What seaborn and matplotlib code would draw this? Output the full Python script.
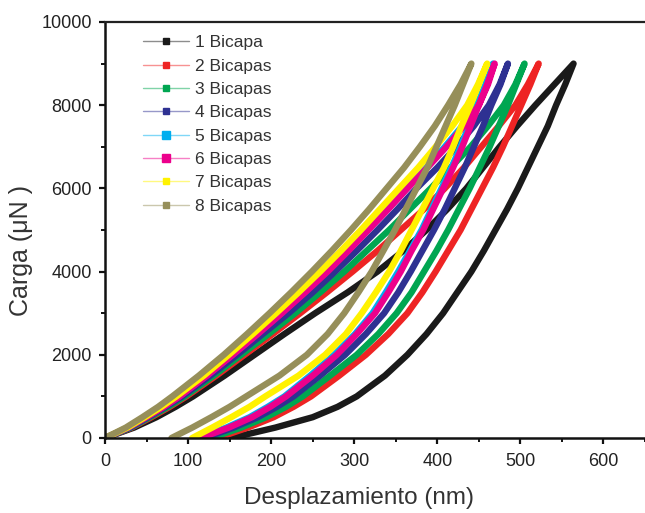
import numpy as np
import pandas as pd
import matplotlib
matplotlib.use("Agg")
import matplotlib.pyplot as plt
from matplotlib.lines import Line2D
from matplotlib.ticker import MultipleLocator
from matplotlib.colors import to_rgb
import seaborn as sns

# ---- data ----
series = ["1 Bicapa", "2 Bicapas", "3 Bicapas", "4 Bicapas",
          "5 Bicapas", "6 Bicapas", "7 Bicapas", "8 Bicapas"]
colors = ["#1a1a1a", "#ee2424", "#00a651", "#2e3192",
          "#00aeef", "#ec008c", "#fff200", "#968f5a"]

# load levels (µN)
loads = [0, 250, 500, 750, 1000, 1500, 2000, 2500, 3000, 3500, 4000,
         4500, 5000, 5500, 6000, 6500, 7000, 7500, 8000, 8500, 9000]

# displacement (nm) on the loading branch at each load level
load_b1 = [0, 35, 62, 85, 106, 144, 180, 216, 253, 292, 328, 359, 387, 412, 435, 455, 475, 496, 518, 541, 564]
load_b2 = [0, 32, 56, 78, 98, 134, 168, 202, 235, 267, 298, 328, 356, 384, 409, 432, 453, 474, 494, 509, 522]
load_b3 = [0, 31, 54, 76, 96, 131, 164, 197, 229, 259, 288, 315, 342, 367, 392, 416, 440, 461, 480, 494, 505]
load_b4 = [0, 30, 52, 73, 93, 127, 159, 190, 221, 250, 277, 303, 328, 352, 375, 400, 423, 444, 462, 475, 485]
load_b5 = [0, 28, 49, 70, 89, 122, 153, 183, 212, 240, 266, 291, 316, 340, 363, 387, 409, 430, 448, 459, 467]
load_b6 = [0, 28, 50, 71, 90, 123, 154, 184, 213, 241, 268, 293, 317, 341, 364, 388, 411, 432, 450, 461, 469]
load_b7 = [0, 27, 48, 68, 86, 119, 149, 178, 206, 233, 259, 284, 308, 331, 354, 377, 398, 418, 436, 449, 460]
load_b8 = [0, 25, 45, 64, 81, 113, 143, 171, 198, 224, 249, 273, 296, 318, 339, 360, 379, 397, 413, 428, 441]

# displacement (nm) on the unloading branch at each load level
unload_b1 = [152, 205, 250, 280, 303, 337, 364, 387, 407, 424, 441, 456, 470, 484, 497, 509, 521, 533, 543, 554, 564]
unload_b2 = [135, 172, 203, 227, 248, 282, 314, 341, 364, 382, 398, 413, 428, 441, 454, 467, 479, 490, 501, 512, 522]
unload_b3 = [128, 164, 194, 218, 238, 271, 303, 329, 351, 369, 384, 399, 413, 426, 439, 451, 463, 474, 485, 495, 505]
unload_b4 = [120, 155, 184, 207, 227, 259, 289, 314, 336, 353, 368, 382, 396, 409, 421, 433, 444, 455, 465, 476, 485]
unload_b5 = [112, 146, 174, 196, 216, 247, 276, 301, 322, 338, 353, 367, 381, 393, 405, 417, 428, 438, 448, 458, 467]
unload_b6 = [115, 149, 177, 199, 218, 250, 279, 303, 325, 341, 356, 369, 383, 395, 407, 419, 430, 440, 450, 460, 469]
unload_b7 = [105, 129, 152, 174, 193, 233, 265, 290, 309, 326, 342, 356, 369, 382, 395, 408, 419, 429, 440, 450, 460]
unload_b8 = [80, 105, 128, 150, 170, 210, 243, 268, 288, 305, 321, 335, 349, 362, 375, 388, 399, 410, 421, 431, 441]

loading = [load_b1, load_b2, load_b3, load_b4, load_b5, load_b6, load_b7, load_b8]
unloading = [unload_b1, unload_b2, unload_b3, unload_b4,
             unload_b5, unload_b6, unload_b7, unload_b8]

xticks = [0, 100, 200, 300, 400, 500, 600]
yticks = [0, 2000, 4000, 6000, 8000, 10000]

# ---- build long table: loading then unloading path ----
rows = []
for name, ld, ul in zip(series, loading, unloading):
    xs = list(ld) + list(ul[::-1][1:])
    ys = list(loads) + list(loads[::-1][1:])
    for i, (x, y) in enumerate(zip(xs, ys)):
        rows.append({"serie": name, "order": i, "disp": x, "carga": y})
df = pd.DataFrame(rows)

sns.set_theme(style="ticks")
plt.rcParams["font.family"] = ["Liberation Sans", "DejaVu Sans"]

fig = plt.figure(figsize=(6.45, 5.13), dpi=100)
W, H = 645, 513
ax = fig.add_axes([105 / W, (H - 438) / H, 540 / W, 416 / H])

sns.lineplot(data=df, x="disp", y="carga", hue="serie", hue_order=series,
             palette=dict(zip(series, colors)), sort=False, estimator=None,
             units="serie", linewidth=4.6, legend=False, ax=ax,
             solid_joinstyle="round")

ax.set_xlim(0, 650)
ax.set_ylim(0, 10000)
ax.set_xticks(xticks)
ax.set_yticks(yticks)
ax.xaxis.set_minor_locator(MultipleLocator(50))
ax.yaxis.set_minor_locator(MultipleLocator(1000))

for s in ["left", "bottom"]:
    ax.spines[s].set_linewidth(1.8)
    ax.spines[s].set_color("#111111")
ax.spines["top"].set_linewidth(1.6)
ax.spines["top"].set_color("#222222")
ax.spines["right"].set_visible(False)

ax.tick_params(axis="both", which="major", direction="out", length=4.5,
               width=1.6, color="#111111", labelsize=13, labelcolor="#222222", pad=5)
ax.tick_params(axis="both", which="minor", direction="out", length=3,
               width=1.4, color="#111111")
ax.tick_params(axis="x", which="major", pad=6)

ax.set_xlabel("Desplazamiento (nm)", fontsize=17.5, color="#333333")
ax.set_ylabel("Carga (μN )", fontsize=18, color="#333333")
ax.xaxis.set_label_coords(0.47, -0.118)
ax.yaxis.set_label_coords(-0.133, 0.45)


def pale(c, f=0.5):
    r, g, b = to_rgb(c)
    return (r + (1 - r) * f, g + (1 - g) * f, b + (1 - b) * f)


msizes = [5, 4.5, 4.5, 5, 6, 6, 5, 4.5]
handles = [Line2D([0], [0], color=pale(c), lw=1.0, marker="s",
                  markersize=ms, markerfacecolor=c, markeredgecolor=c)
           for c, ms in zip(colors, msizes)]
leg = ax.legend(handles, series, loc="upper left", bbox_to_anchor=(0.07, 0.968),
                frameon=False, fontsize=12.5, labelcolor="#333333",
                handlelength=2.65, handletextpad=0.35, labelspacing=0.47,
                borderpad=0, borderaxespad=0)

fig.savefig("out.png", dpi=100)
